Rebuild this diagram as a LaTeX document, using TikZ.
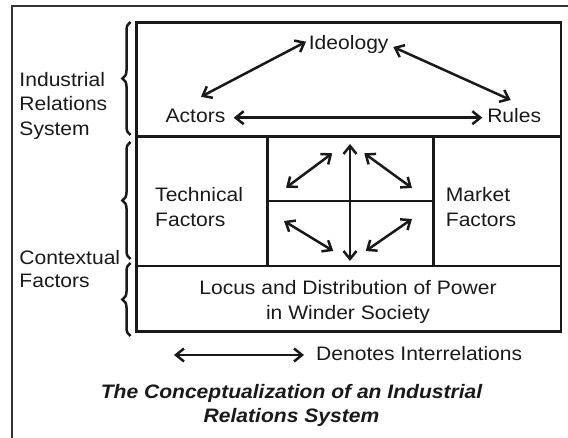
\documentclass[tikz,border=0pt]{standalone}
\usepackage{fontspec}
\setmainfont{Liberation Sans}[FakeStretch=1.08]
\usetikzlibrary{arrows.meta,decorations.pathreplacing}
\begin{document}
\begin{tikzpicture}[x=1pt,y=-1pt,
  txt/.style={inner sep=0pt,font=\fontsize{19.5}{24}\selectfont,text=black!90},
  cell/.style={line width=2.8pt,draw=black!90},
  frame/.style={line width=2.2pt,draw=black!80},
  rel/.style={line width=2.5pt,draw=black!90,{Straight Barb[length=8pt,width=13pt]}-{Straight Barb[length=8pt,width=13pt]}},
  curly/.style={line width=2.5pt,draw=black!90,decorate,decoration={brace,amplitude=8pt}}]
\useasboundingbox (0,0) rectangle (568,438);
% outer frame
\draw[frame] (12.3,445) -- (12.3,6) -- (575,6);
% grid
\draw[cell] (136.7,22.3) rectangle (561,331.7);
\draw[cell] (136.7,136.7) -- (561,136.7);
\draw[cell] (136.7,266) -- (561,266);
\draw[cell] (267.7,136.7) -- (267.7,266);
\draw[cell] (433.3,136.7) -- (433.3,266);
\draw[cell] (267.7,201) -- (433.3,201);
% braces
\draw[curly] (130.5,135) -- (130.5,22);
\draw[curly] (130.5,259) -- (130.5,142);
\draw[curly] (130.5,336) -- (130.5,263);
% left labels
\node[txt,anchor=base west] (irs1) at (19.3,87) {Industrial};
\node[txt,anchor=base west] (irs2) at (19.3,111) {Relations};
\node[txt,anchor=base west] (irs3) at (19.3,135.5) {System};
\node[txt,anchor=base west] (ctx1) at (19.3,264.5) {Contextual};
\node[txt,anchor=base west] (ctx2) at (19.3,288) {Factors};
% top row
\node[txt,anchor=base] (ideology) at (348.7,50) {Ideology};
\node[txt,anchor=base] (actors) at (195.5,123) {Actors};
\node[txt,anchor=base] (rules) at (514.2,123) {Rules};
\coordinate (ia) at (306,41.7);
\coordinate (ai) at (201,96.7);
\coordinate (ir) at (393.3,47);
\coordinate (ri) at (510.7,100);
\coordinate (ar) at (233.7,117.7);
\coordinate (ra) at (482.3,117.7);
\draw[rel] (ai) -- (ia);
\draw[rel] (ir) -- (ri);
\draw[rel] (ar) -- (ra);
% middle row
\node[txt,anchor=base west] (tech1) at (155,201.7) {Technical};
\node[txt,anchor=base west] (tech2) at (155,226.7) {Factors};
\node[txt,anchor=base west] (mkt1) at (445.7,201.7) {Market};
\node[txt,anchor=base west] (mkt2) at (445.7,226.7) {Factors};
\coordinate (vt) at (350,144);
\coordinate (vb) at (350,261);
\coordinate (ul1) at (286,187.7);
\coordinate (ul2) at (332.3,153.3);
\coordinate (ur1) at (364.3,153.3);
\coordinate (ur2) at (412,188);
\coordinate (ll1) at (284,221);
\coordinate (ll2) at (333.3,251);
\coordinate (lr1) at (412,219);
\coordinate (lr2) at (365.7,251);
\draw[rel] (vt) -- (vb);
\draw[rel] (ul1) -- (ul2);
\draw[rel] (ur1) -- (ur2);
\draw[rel] (ll1) -- (ll2);
\draw[rel] (lr1) -- (lr2);
% bottom row
\node[txt,anchor=base] (locus1) at (348,295) {Locus and Distribution of Power};
\node[txt,anchor=base] (locus2) at (348,320) {in Winder Society};
% legend
\coordinate (lg1) at (174,355);
\coordinate (lg2) at (304,355);
\draw[rel] (lg1) -- (lg2);
\node[txt,anchor=base west] (legend) at (316,361) {Denotes Interrelations};
% title
\node[txt,anchor=base,font=\fontsize{19.5}{24}\selectfont\bfseries\itshape] (title1) at (291.5,398.3) {The Conceptualization of an Industrial};
\node[txt,anchor=base,font=\fontsize{19.5}{24}\selectfont\bfseries\itshape] (title2) at (291.5,423) {Relations System};
\end{tikzpicture}
\end{document}
